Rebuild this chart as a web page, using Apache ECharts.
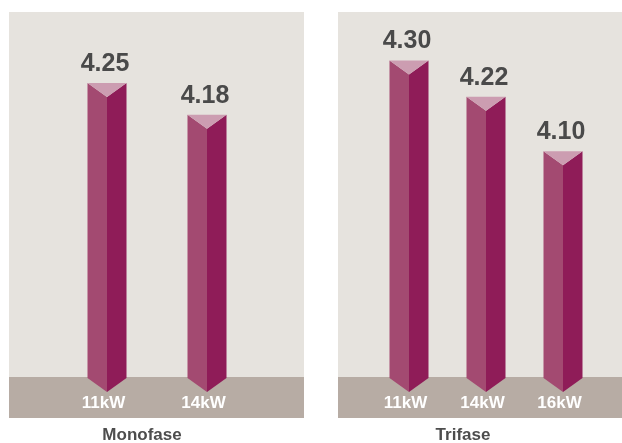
<!DOCTYPE html>
<html>
<head>
<meta charset="utf-8">
<style>html,body{margin:0;padding:0;background:#fff}#c{width:622px;height:443px}</style>
<script src="https://cdn.jsdelivr.net/npm/echarts@6/dist/echarts.min.js"></script>
</head>
<body>
<div id="c"></div>
<script>
const monoCategories = ['11kW', '14kW'];
const monoValues = [4.25, 4.18];
const triCategories = ['11kW', '14kW', '16kW'];
const triValues = [4.30, 4.22, 4.10];
const groupTitles = ['Monofase', 'Trifase'];

const Y_MIN = 3.6, Y_MAX = 4.4;
const FONT = '"Liberation Sans", Arial, Helvetica, sans-serif';

function renderPrism(params, api) {
  const idx = api.value(0);
  const v = api.value(1);
  const top = api.coord([idx, v]);
  const base = api.coord([idx, Y_MIN]);
  const cx = top[0];
  const hw = 19.5, d = 14;
  const yt = top[1], yb = base[1];
  return {
    type: 'group',
    children: [
      { type: 'polygon', shape: { points: [[cx - hw, yt], [cx, yt + d], [cx, yb + d], [cx - hw, yb]] }, style: { fill: '#A34A71' } },
      { type: 'polygon', shape: { points: [[cx, yt + d], [cx + hw, yt], [cx + hw, yb], [cx, yb + d]] }, style: { fill: '#8F1C58' } },
      { type: 'polygon', shape: { points: [[cx - hw, yt], [cx + hw, yt], [cx, yt + d]] }, style: { fill: '#CC9DB1' } },
      { type: 'text', style: { text: v.toFixed(2), x: cx - 2, y: yt - 19, align: 'center', verticalAlign: 'middle', font: 'bold 25px ' + FONT, fill: '#4a4a4a' } }
    ]
  };
}

const chart = echarts.init(document.getElementById('c'), null, { renderer: 'canvas' });

const xAxisCommon = {
  type: 'category',
  axisLine: { show: false },
  axisTick: { show: false },
  axisLabel: { color: '#ffffff', fontFamily: FONT, fontWeight: 'bold', fontSize: 17, margin: 25, verticalAlign: 'middle', padding: [0, 7, 0, 0] }
};
const yAxisCommon = { type: 'value', min: Y_MIN, max: Y_MAX, show: false };

chart.setOption({
  animation: false,
  graphic: [
    { type: 'rect', z: -10, shape: { x: 9, y: 12, width: 295, height: 365 }, style: { fill: '#E6E3DE' } },
    { type: 'rect', z: -10, shape: { x: 9, y: 377, width: 295, height: 41 }, style: { fill: '#B7ACA4' } },
    { type: 'rect', z: -10, shape: { x: 338, y: 12, width: 284, height: 365 }, style: { fill: '#E6E3DE' } },
    { type: 'rect', z: -10, shape: { x: 338, y: 377, width: 284, height: 41 }, style: { fill: '#B7ACA4' } },
    { type: 'text', z: 10, style: { text: groupTitles[0], x: 142, y: 435, align: 'center', verticalAlign: 'middle', font: 'bold 17px ' + FONT, fill: '#4d4d4d' } },
    { type: 'text', z: 10, style: { text: groupTitles[1], x: 463, y: 435, align: 'center', verticalAlign: 'middle', font: 'bold 17px ' + FONT, fill: '#4d4d4d' } }
  ],
  grid: [
    { left: 57, width: 200, top: 15, bottom: 65 },
    { left: 370.5, width: 231, top: 15, bottom: 65 }
  ],
  xAxis: [
    Object.assign({ gridIndex: 0, data: monoCategories }, xAxisCommon),
    Object.assign({ gridIndex: 1, data: triCategories }, xAxisCommon)
  ],
  yAxis: [
    Object.assign({ gridIndex: 0 }, yAxisCommon),
    Object.assign({ gridIndex: 1 }, yAxisCommon)
  ],
  series: [
    { type: 'custom', xAxisIndex: 0, yAxisIndex: 0, renderItem: renderPrism, encode: { x: 0, y: 1 },
      data: monoValues.map((v, i) => [i, v]), z: 5 },
    { type: 'custom', xAxisIndex: 1, yAxisIndex: 1, renderItem: renderPrism, encode: { x: 0, y: 1 },
      data: triValues.map((v, i) => [i, v]), z: 5 }
  ]
});
</script>
</body>
</html>
